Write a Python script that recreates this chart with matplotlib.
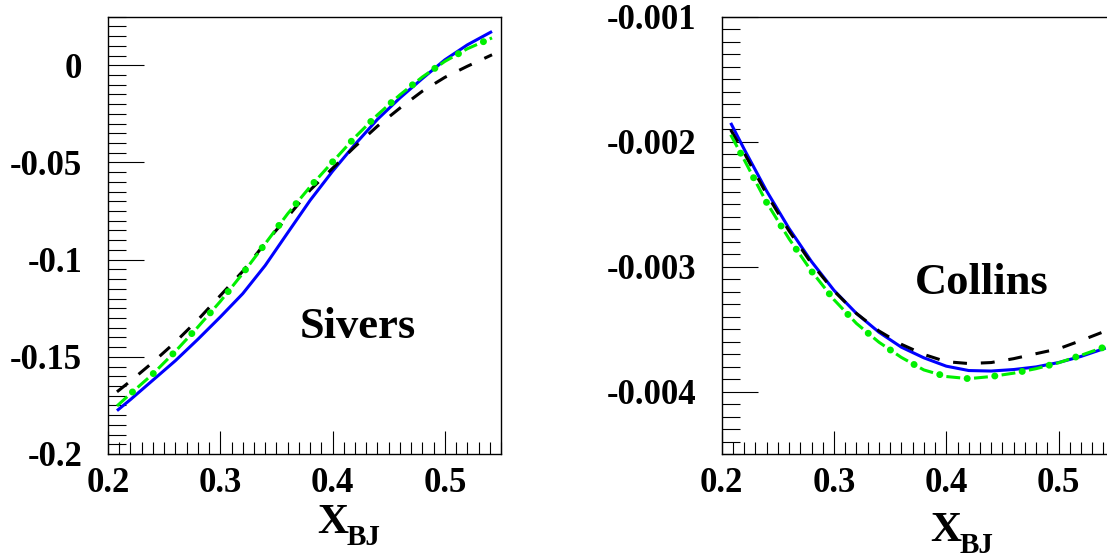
import matplotlib
matplotlib.use("Agg")
import matplotlib.pyplot as plt
from matplotlib.ticker import FixedLocator, FixedFormatter, MultipleLocator

plt.rcParams['font.family'] = ['Liberation Serif', 'DejaVu Serif']
plt.rcParams['font.weight'] = 'bold'
plt.rcParams['lines.scale_dashes'] = False

# ---------------- data ----------------
x_grid = [0.208, 0.22, 0.24, 0.26, 0.28, 0.30, 0.32, 0.34, 0.36, 0.38,
          0.40, 0.42, 0.44, 0.46, 0.48, 0.50, 0.52, 0.542]

sivers_blue = [-0.1777, -0.1720, -0.1620, -0.1520, -0.1410, -0.1295, -0.1175, -0.1030,
               -0.0862, -0.0695, -0.0545, -0.0407, -0.0278, -0.0168, -0.0068, 0.0028,
               0.0105, 0.0174]
sivers_black = [-0.1680, -0.1625, -0.1528, -0.1424, -0.1310, -0.1185, -0.1060, -0.0915,
                -0.0780, -0.0642, -0.0530, -0.0418, -0.0313, -0.0220, -0.0133, -0.0062,
                -0.0005, 0.0054]
sivers_green = [-0.1753, -0.1690, -0.1588, -0.1472, -0.1347, -0.1215, -0.1071, -0.0918,
                -0.0764, -0.0625, -0.0497, -0.0370, -0.0255, -0.0152, -0.0060, 0.0020,
                0.0085, 0.0141]

collins_blue = [-0.001850, -0.002060, -0.002395, -0.002695, -0.002960, -0.003190,
                -0.003375, -0.003525, -0.003645, -0.003730, -0.003797, -0.003832,
                -0.003836, -0.003824, -0.003803, -0.003768, -0.003719, -0.003652]
collins_black = [-0.001905, -0.002090, -0.002420, -0.002715, -0.002975, -0.003195,
                 -0.003375, -0.003515, -0.003622, -0.003703, -0.003761, -0.003776,
                 -0.003768, -0.003737, -0.003697, -0.003658, -0.003592, -0.003515]
collins_green = [-0.001945, -0.002145, -0.002487, -0.002778, -0.003037, -0.003265,
                 -0.003455, -0.003605, -0.003727, -0.003827, -0.003880, -0.003897,
                 -0.003880, -0.003853, -0.003817, -0.003770, -0.003710, -0.003640]

x_ticks = [0.2, 0.3, 0.4, 0.5]
x_ticklabels = ['0.2', '0.3', '0.4', '0.5']
sivers_yticks = [-0.2, -0.15, -0.1, -0.05, 0.0]
sivers_yticklabels = ['-0.2', '-0.15', '-0.1', '-0.05', '0']
collins_yticks = [-0.004, -0.003, -0.002, -0.001]
collins_yticklabels = ['-0.004', '-0.003', '-0.002', '-0.001']

# ---------------- figure ----------------
W, H = 1107, 559
fig = plt.figure(figsize=(W / 100, H / 100), dpi=100)
fig.patch.set_facecolor('white')


def px_rect(l, t, r, b):
    return [l / W, 1 - b / H, (r - l) / W, (b - t) / H]


ax1 = fig.add_axes(px_rect(108, 16.7, 501, 454))
ax2 = fig.add_axes(px_rect(721.7, 16.7, 721.7 + 393, 454))


def style(ax, ylim, yticks, ylabels, yminor):
    ax.set_xlim(0.2, 0.55)
    ax.set_ylim(*ylim)
    ax.xaxis.set_major_locator(FixedLocator(x_ticks))
    ax.xaxis.set_major_formatter(FixedFormatter(x_ticklabels))
    ax.xaxis.set_minor_locator(MultipleLocator(0.01))
    ax.yaxis.set_major_locator(FixedLocator(yticks))
    ax.yaxis.set_major_formatter(FixedFormatter(ylabels))
    ax.yaxis.set_minor_locator(MultipleLocator(yminor))
    ax.tick_params(which='both', direction='in', top=False, right=False,
                   width=0.8, color='black')
    ax.tick_params(axis='x', which='major', length=16.5, pad=9, labelsize=25)
    ax.tick_params(axis='x', which='minor', length=8.4)
    ax.tick_params(axis='y', which='major', length=26, pad=18.5, labelsize=25)
    ax.tick_params(axis='y', which='minor', length=13)
    for s in ax.spines.values():
        s.set_linewidth(1.0)
        s.set_color('black')


GREEN = '#00f000'


def curves(ax, blue, black, green):
    ax.plot(x_grid, blue, color='#0000ff', lw=2.2, solid_capstyle='butt', zorder=3)
    ax.plot(x_grid, black, color='black', lw=2.2, linestyle=(0, (10, 10)),
            dash_capstyle='butt', zorder=4)
    ax.plot(x_grid, green, color=GREEN, lw=2.2, linestyle=(0, (10, 10)),
            dash_capstyle='butt', zorder=5)
    ax.plot(x_grid, green, color=GREEN, lw=5.0, linestyle=(5, (0.1, 19.9)),
            dash_capstyle='round', zorder=5)


style(ax1, (-0.2, 0.025), sivers_yticks, sivers_yticklabels, 0.005)
style(ax2, (-0.0045, -0.001), collins_yticks, collins_yticklabels, 0.0001)
curves(ax1, sivers_blue, sivers_black, sivers_green)
curves(ax2, collins_blue, collins_black, collins_green)

fig.text(300 / W, 1 - 338 / H, 'Sivers', fontsize=32, ha='left', va='baseline', weight='bold')
fig.text(915 / W, 1 - 294 / H, 'Collins', fontsize=32, ha='left', va='baseline', weight='bold')

fig.text(317 / W, 1 - 533 / H, 'X', fontsize=31, ha='left', va='baseline', weight='bold')
fig.text(347 / W, 1 - 545 / H, 'BJ', fontsize=21, ha='left', va='baseline', weight='bold')
fig.text(930 / W, 1 - 541 / H, 'X', fontsize=31, ha='left', va='baseline', weight='bold')
fig.text(960 / W, 1 - 553 / H, 'BJ', fontsize=21, ha='left', va='baseline', weight='bold')

fig.savefig('out.png', dpi=100)
